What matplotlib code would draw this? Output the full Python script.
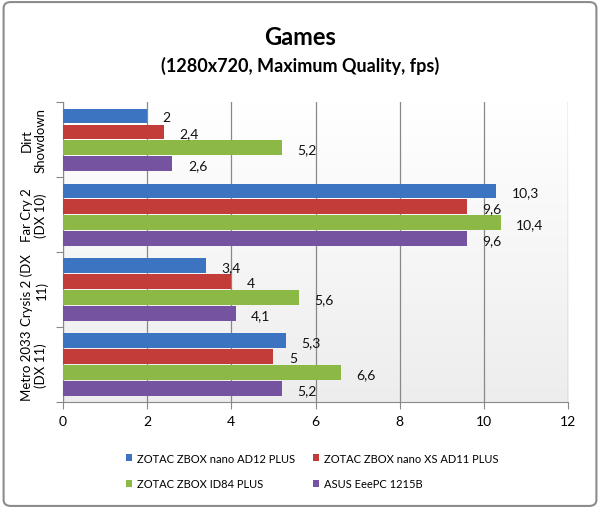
import numpy as np
import matplotlib.pyplot as plt
from matplotlib.patches import FancyBboxPatch

games = ['Dirt\nShowdown', 'Far Cry 2\n(DX 10)', 'Crysis 2 (DX\n11)', 'Metro 2033\n(DX 11)']
systems = ['ZOTAC ZBOX nano AD12 PLUS', 'ZOTAC ZBOX nano XS AD11 PLUS',
           'ZOTAC ZBOX ID84 PLUS', 'ASUS EeePC 1215B']
fps = {
    'ZOTAC ZBOX nano AD12 PLUS': [2.0, 10.3, 3.4, 5.3],
    'ZOTAC ZBOX nano XS AD11 PLUS': [2.4, 9.6, 4.0, 5.0],
    'ZOTAC ZBOX ID84 PLUS': [5.2, 10.4, 5.6, 6.6],
    'ASUS EeePC 1215B': [2.6, 9.6, 4.1, 5.2],
}
colors = ['#3d74c2', '#c23c3a', '#8cb845', '#7653a0']

plt.rcParams['font.family'] = ['Lato', 'DejaVu Sans']

fig = plt.figure(figsize=(6, 5.1), dpi=100)
fig.patches.append(FancyBboxPatch((0.006, 0.006), 0.988, 0.988,
                                  boxstyle='round,pad=0,rounding_size=0.012',
                                  transform=fig.transFigure, fc='white',
                                  ec='#8c8c8c', lw=1.5, zorder=-10))

ax = fig.add_axes([0.105, 0.2098, 0.8417, 0.588])
# light background gradient of the plot area
t = np.linspace(0, 1, 256).reshape(-1, 1, 1)
top = np.array([1.0, 1.0, 1.0])
bot = np.array([0.93, 0.93, 0.93])
grad = top * (1 - t) + bot * t
ax.imshow(grad, aspect='auto', extent=[0, 1, 0, 1], transform=ax.transAxes, zorder=0)

n = len(games)
step = 0.213
height = 0.19
bars = []
for i, (name, c) in enumerate(zip(systems, colors)):
    y = np.arange(n) + (i - 1.5) * step
    vals = fps[name]
    bars.append(ax.barh(y, vals, height=height, color=c, zorder=3, label=name))
    for yy, v in zip(y, vals):
        ax.text(v + 0.37, yy + 0.02, f'{v:g}'.replace('.', ','), va='center', ha='left',
                fontsize=10, color='#111111', zorder=4)

ax.set_xlim(0, 12)
ax.set_ylim(n - 0.5, -0.5)
ax.set_xticks(range(0, 13, 2))
ax.grid(axis='x', color='#888888', lw=0.9, zorder=1)
ax.set_yticks(np.arange(-0.5, n, 1.0))
ax.set_yticklabels([])
ax.set_yticks(np.arange(n), minor=True)
ax.set_yticklabels(games, minor=True, rotation=90, va='center', ha='center',
                   fontsize=9.5, multialignment='center')
ax.tick_params(axis='y', which='minor', length=0, pad=21)
ax.tick_params(axis='y', which='major', length=5, direction='out', color='#888888')
ax.tick_params(axis='x', length=5, direction='out', color='#888888', labelsize=10, pad=4)
for s in ['top', 'right']:
    ax.spines[s].set_visible(False)
for s in ['left', 'bottom']:
    ax.spines[s].set_color('#888888')

fig.text(0.5, 0.927, 'Games', ha='center', va='center', fontsize=17, fontweight='bold')
fig.text(0.5, 0.870, '(1280x720, Maximum Quality, fps)', ha='center', va='center',
         fontsize=13, fontweight='bold')

# legend fills column-wise, reorder so rows read like the original
order = [0, 2, 1, 3]
fig.legend([bars[k] for k in order], [systems[k] for k in order],
           loc='center', bbox_to_anchor=(0.52, 0.075), ncol=2, frameon=False,
           fontsize=8, handlelength=0.6, handleheight=0.6, handletextpad=0.4,
           columnspacing=1.6, labelspacing=1.3)

fig.savefig('out.png', dpi=100)
